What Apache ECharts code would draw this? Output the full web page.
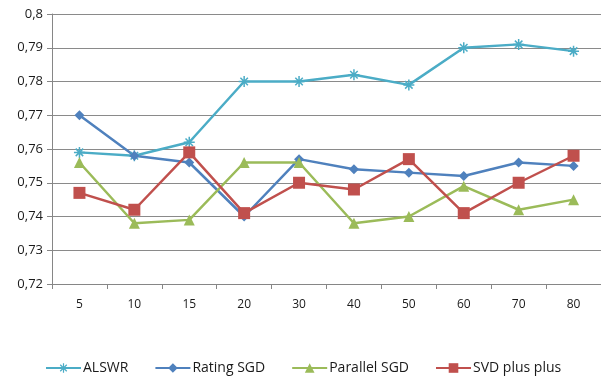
<!DOCTYPE html>
<html>
<head>
<meta charset="utf-8">
<script src="https://cdn.jsdelivr.net/npm/echarts@6/dist/echarts.min.js"></script>
<style>
  html, body { margin: 0; padding: 0; background: #fff; }
  #chart { width: 601px; height: 376px; }
</style>
</head>
<body>
<div id="chart"></div>
<script>
// categories on the x axis
const categories = ['5', '10', '15', '20', '30', '40', '50', '60', '70', '80']
// series values
const alswr = [0.759, 0.758, 0.762, 0.780, 0.780, 0.782, 0.779, 0.790, 0.791, 0.789]
const ratingSgd = [0.770, 0.758, 0.756, 0.740, 0.757, 0.754, 0.753, 0.752, 0.756, 0.755]
const parallelSgd = [0.756, 0.738, 0.739, 0.756, 0.756, 0.738, 0.740, 0.749, 0.742, 0.745]
const svdPlusPlus = [0.747, 0.742, 0.759, 0.741, 0.750, 0.748, 0.757, 0.741, 0.750, 0.758]

const starPath = 'path://M0,5L10,5M5,0L5,10M1.6,1.6L8.4,8.4M1.6,8.4L8.4,1.6'
const font = 'Open Sans'

const myChart = echarts.init(document.getElementById('chart'))

const option = {
  animation: false,
  grid: { left: 52, right: 0, top: 14, bottom: 92 },
  textStyle: { fontFamily: font },
  legend: {
    top: 356,
    left: 40,
    itemWidth: 35,
    itemHeight: 12,
    itemGap: 26,
    textStyle: { fontFamily: font, fontSize: 14, color: '#1a1a1a', padding: [0, 0, 0, -3] },
    data: [
      { name: 'ALSWR', itemStyle: { color: 'rgba(0,0,0,0)', borderColor: '#4BACC6', borderWidth: 1.2 } },
      { name: 'Rating SGD' },
      { name: 'Parallel SGD' },
      { name: 'SVD plus plus' }
    ]
  },
  xAxis: {
    type: 'category',
    data: categories,
    boundaryGap: true,
    axisLine: { lineStyle: { color: '#868686', width: 1 } },
    axisTick: { show: true, length: 5, lineStyle: { color: '#868686' } },
    axisLabel: { margin: 15, fontSize: 12, color: '#1a1a1a', fontFamily: font }
  },
  yAxis: {
    type: 'value',
    min: 0.72,
    max: 0.8,
    interval: 0.01,
    axisLine: { show: true, lineStyle: { color: '#868686', width: 1 } },
    axisTick: { show: true, length: 5, lineStyle: { color: '#868686' } },
    splitLine: { lineStyle: { color: '#8a8a8a', width: 1.2 } },
    axisLabel: {
      margin: 9,
      fontSize: 13,
      color: '#1a1a1a',
      fontFamily: font,
      formatter: v => String(+v.toFixed(2)).replace('.', ',')
    }
  },
  series: [
    {
      name: 'ALSWR',
      type: 'line',
      data: alswr,
      symbol: starPath,
      symbolSize: 11,
      lineStyle: { color: '#4BACC6', width: 2.5 },
      itemStyle: { color: 'rgba(0,0,0,0)', borderColor: '#4BACC6', borderWidth: 1.5 }
    },
    {
      name: 'Rating SGD',
      type: 'line',
      data: ratingSgd,
      symbol: 'diamond',
      symbolSize: 10,
      lineStyle: { color: '#4F81BD', width: 2.5 },
      itemStyle: { color: '#4F81BD' }
    },
    {
      name: 'Parallel SGD',
      type: 'line',
      data: parallelSgd,
      symbol: 'triangle',
      symbolSize: 11,
      lineStyle: { color: '#9BBB59', width: 2.5 },
      itemStyle: { color: '#9BBB59' }
    },
    {
      name: 'SVD plus plus',
      type: 'line',
      data: svdPlusPlus,
      symbol: 'rect',
      symbolSize: 12,
      lineStyle: { color: '#C0504D', width: 2.5 },
      itemStyle: { color: '#C0504D' }
    }
  ]
}

myChart.setOption(option)
window.addEventListener('resize', () => {
  myChart.resize()
})
</script>
</body>
</html>
